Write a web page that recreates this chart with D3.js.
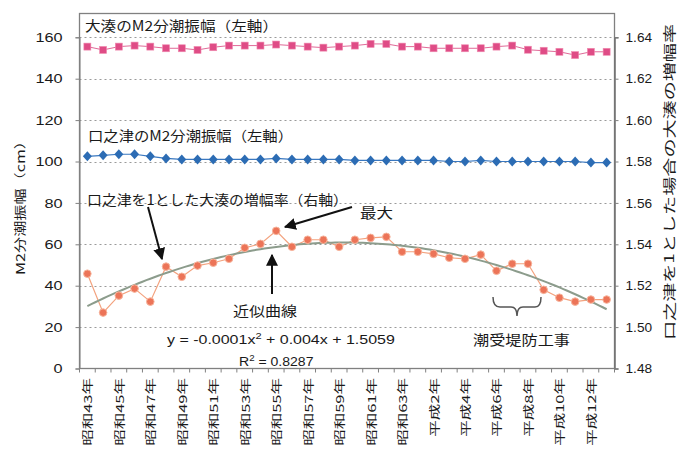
<!DOCTYPE html>
<html><head><meta charset="utf-8">
<script src="https://cdn.jsdelivr.net/npm/d3@7"></script>
<style>
body{margin:0;background:#fff;}
svg{display:block;}
text{font-family:"Noto Sans CJK JP","Noto Sans",sans-serif;fill:#1a1a1a;}
</style></head>
<body><svg id="c" width="677" height="454"></svg>
<script>
const categories = ["昭和43年","昭和44年","昭和45年","昭和46年","昭和47年","昭和48年","昭和49年","昭和50年","昭和51年","昭和52年","昭和53年","昭和54年","昭和55年","昭和56年","昭和57年","昭和58年","昭和59年","昭和60年","昭和61年","昭和62年","昭和63年","平成元年","平成2年","平成3年","平成4年","平成5年","平成6年","平成7年","平成8年","平成9年","平成10年","平成11年","平成12年","平成13年"];
const tickLabels = ["昭和43年","昭和45年","昭和47年","昭和49年","昭和51年","昭和53年","昭和55年","昭和57年","昭和59年","昭和61年","昭和63年","平成2年","平成4年","平成6年","平成8年","平成10年","平成12年"];
const oominatoM2 = [155.5,153.9,155.5,156,155.5,154.7,154.7,153.9,155.2,156,156,156,156.5,156,155.5,155,155.5,156,156.8,156.8,155.5,155.5,154.7,154.7,154.7,154.7,155.5,156,154,153.5,153,151.4,153,153];
const kuchinotsuM2 = [102.5,103,103.5,103.5,102.5,101.5,101,101,101,101,101,101,101.5,101,101,101,101,100.5,100.5,100.5,100.5,100.5,100.5,100,100,100.5,100,100,100,100,100,100,99.5,99.5];
const ampRatio = [1.5258,1.507,1.5152,1.5186,1.5123,1.5292,1.5243,1.5297,1.5311,1.533,1.5383,1.5402,1.5465,1.5388,1.5422,1.5422,1.5388,1.5422,1.5431,1.5436,1.5364,1.5364,1.5354,1.5335,1.533,1.535,1.5272,1.5306,1.5306,1.518,1.5142,1.5123,1.5133,1.5133];
const leftTicks = [0,20,40,60,80,100,120,140,160];
const rightTicks = [1.48,1.50,1.52,1.54,1.56,1.58,1.60,1.62,1.64];
const rightTickLabels = ["1.48","1.50","1.52","1.54","1.56","1.58","1.60","1.62","1.64"];

const svg = d3.select("#c");
const L=79.5, R=614.5, T=13.5, B=368.5;
const x = d3.scaleBand().domain(categories).range([L,R]);
const cx = c => x(c)+x.bandwidth()/2;
const yL = d3.scaleLinear().domain([0,160]).range([B,37.3]);
const yR = d3.scaleLinear().domain([1.48,1.64]).range([B,37.3]);

function stretch(sel,k){ sel.each(function(){ const n=this; const l=n.getComputedTextLength(); d3.select(n).attr("textLength",l*k).attr("lengthAdjust","spacingAndGlyphs"); }); }
function fit(sel,len){ sel.attr("textLength",len).attr("lengthAdjust","spacingAndGlyphs"); }

// gridlines
svg.append("g").selectAll("line").data(leftTicks.filter(d=>d>0)).join("line")
  .attr("x1",L).attr("x2",R).attr("y1",d=>Math.round(yL(d))+0.5).attr("y2",d=>Math.round(yL(d))+0.5)
  .attr("stroke","#9a9a9a").attr("stroke-width",1).attr("stroke-dasharray","2,3");

// frame
svg.append("rect").attr("x",L).attr("y",T).attr("width",R-L).attr("height",B-T)
  .attr("fill","none").attr("stroke","#808080").attr("stroke-width",1.3);

// left axis
const gl = svg.append("g").attr("transform",`translate(${L},0)`)
  .call(d3.axisLeft(yL).tickValues(leftTicks).tickSize(4).tickPadding(13).tickFormat(d3.format("d")));
gl.select(".domain").attr("stroke","#808080");
gl.selectAll(".tick line").attr("stroke","#808080");
gl.selectAll("text").style("font-size","13px").style("font-family","Liberation Sans, Arial, sans-serif").attr("fill","#1a1a1a");
stretch(gl.selectAll("text"),1.25);

// right axis
const gr = svg.append("g").attr("transform",`translate(${R},0)`)
  .call(d3.axisRight(yR).tickValues(rightTicks).tickSize(4).tickPadding(7).tickFormat((d,i)=>rightTickLabels[i]));
gr.select(".domain").attr("stroke","#707070").attr("stroke-width",1.5);
gr.selectAll(".tick line").attr("stroke","#808080");
gr.selectAll("text").style("font-size","13px").style("font-family","Liberation Sans, Arial, sans-serif").attr("fill","#1a1a1a");
stretch(gr.selectAll("text"),1.05);

// x ticks between categories
svg.append("g").selectAll("line").data(d3.range(categories.length+1)).join("line")
  .attr("x1",i=>L+i*x.bandwidth()).attr("x2",i=>L+i*x.bandwidth())
  .attr("y1",B).attr("y2",B+4).attr("stroke","#808080");
// x labels
const xl = svg.append("g").selectAll("text").data(tickLabels).join("text")
  .attr("transform",d=>`translate(${cx(d)},378) rotate(-90)`)
  .attr("text-anchor","end").attr("dominant-baseline","central")
  .style("font-size","11px").text(d=>d);
stretch(xl,1.5);

// series lines
const lineL = d3.line().x((d,i)=>cx(categories[i])).y(d=>yL(d));
svg.append("path").datum(oominatoM2).attr("d",lineL).attr("fill","none").attr("stroke","#e06a98").attr("stroke-width",1);
svg.append("path").datum(kuchinotsuM2).attr("d",lineL).attr("fill","none").attr("stroke","#3a78c0").attr("stroke-width",1.2);
const lineR = d3.line().x((d,i)=>cx(categories[i])).y(d=>yR(d));
svg.append("path").datum(ampRatio).attr("d",lineR).attr("fill","none").attr("stroke","#f3a27e").attr("stroke-width",1.2);

// quadratic least squares trendline fitted to ampRatio
(function(){
  const n=ampRatio.length; let S=[0,0,0,0,0], T2=[0,0,0];
  ampRatio.forEach((v,i)=>{const t=i+1; for(let k=0;k<5;k++)S[k]+=Math.pow(t,k); T2[0]+=v; T2[1]+=v*t; T2[2]+=v*t*t;});
  const A=[[S[0],S[1],S[2],T2[0]],[S[1],S[2],S[3],T2[1]],[S[2],S[3],S[4],T2[2]]];
  for(let i=0;i<3;i++){for(let j=i+1;j<3;j++){const f=A[j][i]/A[i][i];for(let k=i;k<4;k++)A[j][k]-=f*A[i][k];}}
  const c=[0,0,0];
  for(let i=2;i>=0;i--){let s=A[i][3];for(let k=i+1;k<3;k++)s-=A[i][k]*c[k];c[i]=s/A[i][i];}
  const pts=d3.range(1,n+0.001,0.25);
  const xt=d3.scaleLinear().domain([1,n]).range([cx(categories[0]),cx(categories[n-1])]);
  svg.append("path").datum(pts).attr("d",d3.line().x(t=>xt(t)).y(t=>yR(c[0]+c[1]*t+c[2]*t*t)))
    .attr("fill","none").attr("stroke","#8c9c8c").attr("stroke-width",2);
})();

// markers
svg.append("g").selectAll("rect").data(oominatoM2).join("rect")
  .attr("x",(d,i)=>cx(categories[i])-3.5).attr("y",d=>yL(d)-3.5).attr("width",7).attr("height",7)
  .attr("fill","#df4c86").attr("stroke","#f08cb0").attr("stroke-width",0.6);
svg.append("g").selectAll("path").data(kuchinotsuM2).join("path")
  .attr("d",(d,i)=>{const X=cx(categories[i]),Y=yL(d);return `M${X},${Y-5}L${X+4.5},${Y}L${X},${Y+5}L${X-4.5},${Y}Z`;})
  .attr("fill","#2c6cb4");
svg.append("g").selectAll("circle").data(ampRatio).join("circle")
  .attr("cx",(d,i)=>cx(categories[i])).attr("cy",d=>yR(d)).attr("r",3.8)
  .attr("fill","#ec7458").attr("stroke","#f7b49c").attr("stroke-width",1);

// axis titles
const tl = svg.append("text").attr("transform","translate(19,204) rotate(-90)").attr("text-anchor","middle")
  .attr("dominant-baseline","central").style("font-size","12px").text("M2分潮振幅（cm）");
fit(tl,142);
const tr = svg.append("text").attr("transform","translate(668,182) rotate(-90)").attr("text-anchor","middle")
  .attr("dominant-baseline","central").style("font-size","13px").text("口之津を1とした場合の大湊の増幅率");
fit(tr,316);

// annotations
function ann(t,xx,yy,len,fs){const s=svg.append("text").attr("x",xx).attr("y",yy).style("font-size",(fs||14)+"px").text(t); if(len)fit(s,len); return s;}
ann("大湊のM2分潮振幅（左軸）",85,31,193);
ann("口之津のM2分潮振幅（左軸）",88,141,205);
ann("口之津を1とした大湊の増幅率（右軸）",87,205,261);
ann("最大",360,218,33);
ann("近似曲線",233,316,64);
ann("潮受堤防工事",473,345,97);
const eq = svg.append("text").attr("transform","translate(167,344) scale(1.23,1)").style("font-size","13px").style("font-family","Liberation Sans, Arial, sans-serif");
eq.append("tspan").text("y = -0.0001x");
eq.append("tspan").attr("dy",-5).style("font-size","9px").text("2");
eq.append("tspan").attr("dy",5).text(" + 0.004x + 1.5059");
const r2 = svg.append("text").attr("transform","translate(239,366) scale(1.08,1)").style("font-size","13px").style("font-family","Liberation Sans, Arial, sans-serif");
r2.append("tspan").text("R");
r2.append("tspan").attr("dy",-5).style("font-size","9px").text("2");
r2.append("tspan").attr("dy",5).text(" = 0.8287");

// arrows
const defs = svg.append("defs");
defs.append("marker").attr("id","ah").attr("viewBox","0 0 10 10").attr("refX",9).attr("refY",5)
  .attr("markerWidth",6).attr("markerHeight",6).attr("orient","auto-start-reverse").attr("markerUnits","strokeWidth")
  .append("path").attr("d","M0,0L10,5L0,10Z").attr("fill","#111");
function arrow(x1,y1,x2,y2){svg.append("line").attr("x1",x1).attr("y1",y1).attr("x2",x2).attr("y2",y2)
  .attr("stroke","#111").attr("stroke-width",2).attr("marker-end","url(#ah)");}
arrow(148,207,162,259);
arrow(352,207,285,227);
arrow(272,294,272,255);

// brace
svg.append("path").attr("d","M493,297 Q493,307 500,307 L511,307 Q517,307 517,316 Q517,307 523,307 L535,307 Q541,307 541,297")
  .attr("fill","none").attr("stroke","#555").attr("stroke-width",1.5);
</script></body></html>
